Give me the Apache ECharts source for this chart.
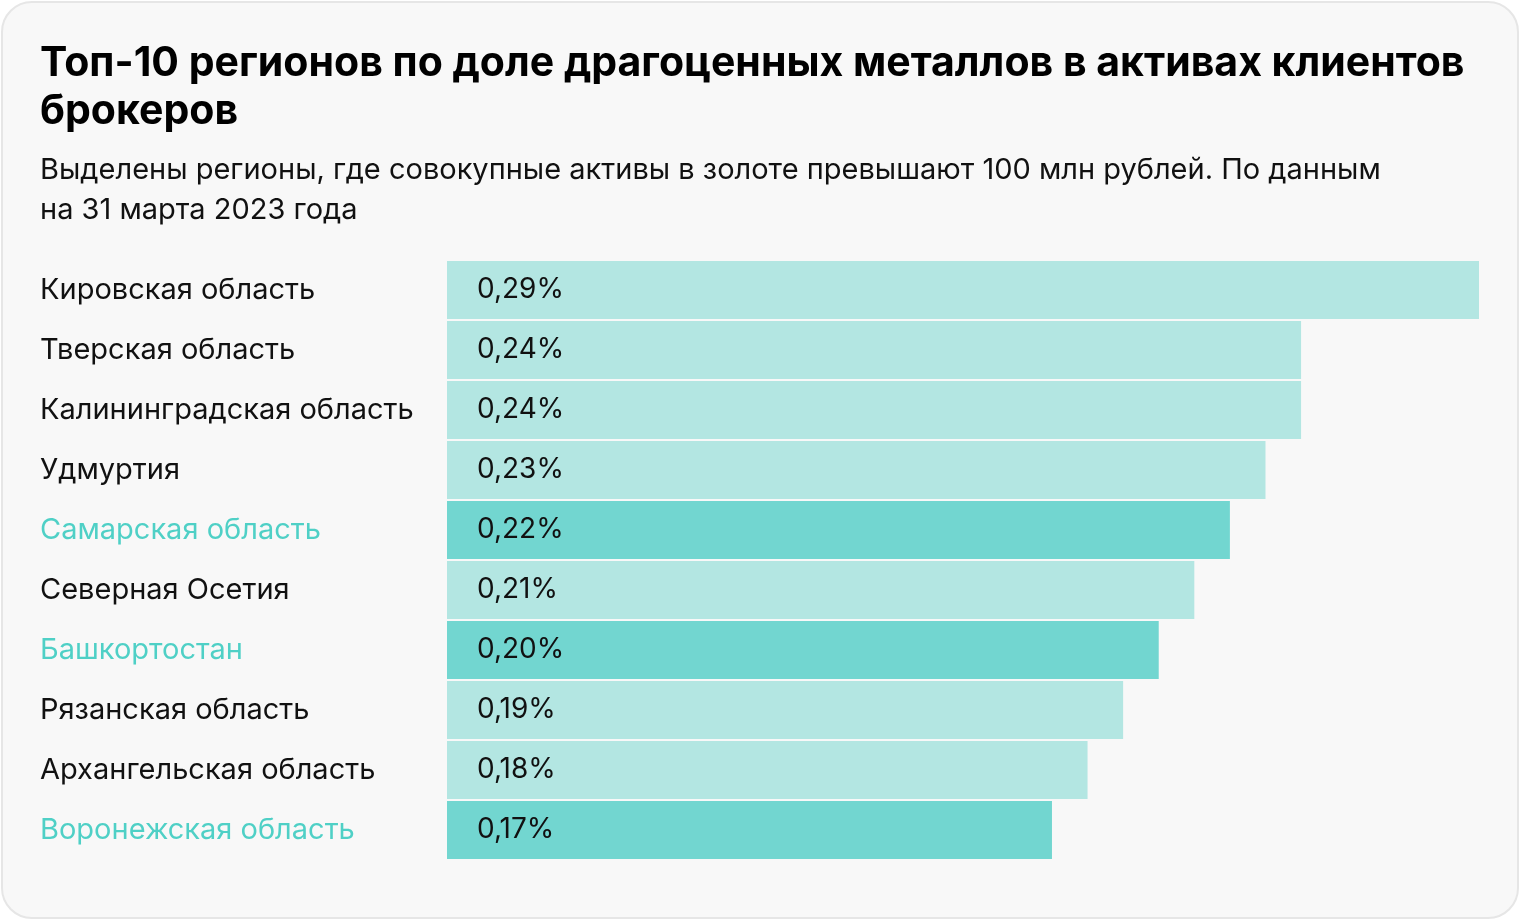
<!DOCTYPE html>
<html><head><meta charset="utf-8">
<script src="https://cdn.jsdelivr.net/npm/echarts@6/dist/echarts.min.js"></script>
<style>html,body{margin:0;padding:0;background:#fff;}#c{width:1520px;height:920px;}</style>
</head><body><div id="c"></div>
<script>
const regions = ["Кировская область","Тверская область","Калининградская область","Удмуртия","Самарская область","Северная Осетия","Башкортостан","Рязанская область","Архангельская область","Воронежская область"];
const shares = [0.29,0.24,0.24,0.23,0.22,0.21,0.20,0.19,0.18,0.17];
const highlighted = ["Самарская область","Башкортостан","Воронежская область"];
const titleText = "Топ-10 регионов по доле драгоценных металлов в активах клиентов\nброкеров";
const subtitleText = "Выделены регионы, где совокупные активы в золоте превышают 100 млн рублей. По данным\nна 31 марта 2023 года";

const FONT = 'Inter, Roboto, "Noto Sans", sans-serif';
const chart = echarts.init(document.getElementById('c'), null, {renderer:'canvas'});
chart.setOption({
  backgroundColor:'#ffffff',
  animation:false,
  graphic:[{type:'rect',left:1,top:1,z:-10,shape:{width:1516,height:916,r:30},style:{fill:'#f8f8f8',stroke:'#e6e6e6',lineWidth:2}}],
  title:[
    {text:titleText,left:40,top:40,padding:0,textStyle:{fontFamily:FONT,fontSize:41,fontWeight:'bold',color:'#000',lineHeight:48}},
    {text:subtitleText,left:40,top:150,padding:0,textStyle:{fontFamily:FONT,fontSize:29,fontWeight:'normal',color:'#111',lineHeight:40}}
  ],
  grid:{left:447,top:260,width:1032,height:600,containLabel:false},
  xAxis:{type:'value',min:0,max:0.29,show:false},
  yAxis:{type:'category',inverse:true,data:regions,
    axisLine:{show:false},axisTick:{show:false},
    axisLabel:{margin:407,align:'left',fontFamily:FONT,fontSize:29,
      formatter:(v)=>highlighted.includes(v)?'{h|'+v+'}':'{n|'+v+'}',
      rich:{n:{color:'#111',fontFamily:FONT,fontSize:29},h:{color:'#4fd0c6',fontFamily:FONT,fontSize:29}}}},
  series:[{type:'bar',barCategoryGap:'3.4%',
    data:shares.map((v,i)=>({value:v,itemStyle:{color:highlighted.includes(regions[i])?'#72d6d0':'#b3e6e2'}})),
    label:{show:true,position:'insideLeft',distance:30,color:'#111',fontFamily:FONT,fontSize:28,
      formatter:(p)=>p.value.toFixed(2).replace('.',',')+'%'}
  }]
});
</script></body></html>
